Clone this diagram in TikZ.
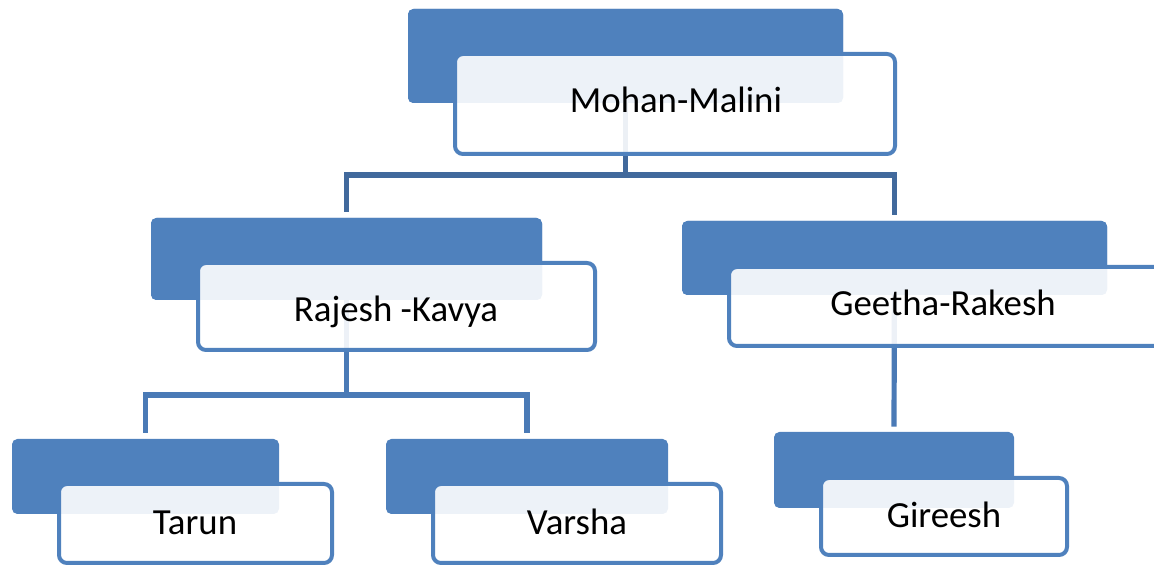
\documentclass[tikz,border=0pt]{standalone}
\usepackage{fontspec}
\setmainfont{Carlito}
\definecolor{boxblue}{HTML}{4F81BD}
\definecolor{topline}{HTML}{41699C}
\definecolor{lowline}{HTML}{4A7AB6}
\begin{document}
\begin{tikzpicture}[x=0.75pt,y=-0.75pt,
  back/.style={fill=boxblue, draw=none, rounded corners=4pt, inner sep=0pt, outer sep=0pt},
  front/.style={fill=white, fill opacity=0.9, draw=boxblue, draw opacity=1, line width=3pt, rounded corners=6pt, inner sep=0pt, outer sep=0pt},
  lbl/.style={font=\fontsize{27.6}{32}\selectfont, text=black, inner sep=0pt, anchor=base},
  conn/.style={line width=3.9pt, line cap=butt, line join=miter},
  topconn/.style={conn, draw=topline},
  lowconn/.style={conn, draw=lowline}]
\useasboundingbox (0,0) rectangle (1154,566);
\clip (0,0) rectangle (1154,566);

% back (blue) boxes
\node[back, minimum width=326.25pt, minimum height=70.5pt]  (mohanB)   at (625.5,56)   {};
\node[back, minimum width=293.25pt, minimum height=61.5pt]  (rajeshB)  at (346.5,259)  {};
\node[back, minimum width=318.75pt, minimum height=55.5pt]  (geethaB)  at (894.5,258)  {};
\node[back, minimum width=200.25pt, minimum height=56.25pt] (tarunB)   at (145.5,476.5){};
\node[back, minimum width=211.5pt,  minimum height=56.25pt] (varshaB)  at (527,476.5)  {};
\node[back, minimum width=180pt,    minimum height=57pt]    (gireeshB) at (894,470)    {};

% junctions
\coordinate (j1) at (625.5,175);
\coordinate (j2) at (346.5,395);

% connectors
\path[topconn] (mohanB.center) -- (j1);
\path[topconn, shorten >=4.5pt] (j1) -| (rajeshB.north);
\path[topconn, shorten >=4.5pt] (j1) -| (geethaB.north);
\path[lowconn] (rajeshB.center) -- (j2);
\path[lowconn, shorten >=4.5pt] (j2) -| (tarunB.north);
\path[lowconn, shorten >=4.5pt] (j2) -| (varshaB.north);
\path[lowconn, shorten >=4pt] (geethaB.center) -- (gireeshB.north);

% redraw back boxes over connector starts
\node[back, minimum width=326.25pt, minimum height=70.5pt]  at (mohanB)  {};
\node[back, minimum width=293.25pt, minimum height=61.5pt]  at (rajeshB) {};
\node[back, minimum width=318.75pt, minimum height=55.5pt]  at (geethaB) {};

% front (white) boxes
\node[front, minimum width=330pt,    minimum height=75pt]    (mohan)   at (675,104)    {};
\node[front, minimum width=297.75pt, minimum height=65.25pt] (rajesh)  at (396.5,306.5){};
\node[front, minimum width=338.25pt, minimum height=59.25pt] (geetha)  at (954.5,306.5){};
\node[front, minimum width=204.75pt, minimum height=59.25pt] (tarun)   at (195.5,523.5){};
\node[front, minimum width=216pt,    minimum height=59.25pt] (varsha)  at (577,523.5)  {};
\node[front, minimum width=184.5pt,  minimum height=57.75pt] (gireesh) at (944,516.5)  {};

% labels
\node[lbl] (mohanT)   at (676,113) {Mohan-Malini};
\node[lbl] (rajeshT)  at (396,322) {Rajesh -Kavya};
\node[lbl] (geethaT)  at (943,316) {Geetha-Rakesh};
\node[lbl] (tarunT)   at (195,535) {Tarun};
\node[lbl] (varshaT)  at (577,535) {Varsha};
\node[lbl] (gireeshT) at (944,528) {Gireesh};
\end{tikzpicture}
\end{document}
